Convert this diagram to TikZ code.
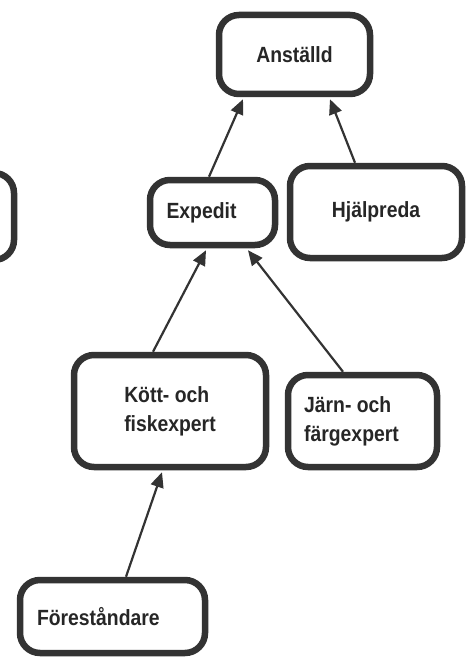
\documentclass[tikz,border=0pt]{standalone}
\usepackage{fontspec}
\setmainfont{Liberation Sans}[FakeStretch=0.88]
\usetikzlibrary{arrows.meta, positioning, calc}

\definecolor{boxLine}{HTML}{333333}
\definecolor{boxText}{HTML}{262626}

\begin{document}
\begin{tikzpicture}[
		x=1pt, y=-1pt,
		font=\fontsize{22}{29}\selectfont\bfseries,
		% Styles
		roleBox/.style={draw=boxLine, line width=6.5pt, rounded corners=20pt, text=boxText, align=center, inner sep=0pt, minimum width=#1},
		inheritArrow/.style={-{Triangle[length=15pt, width=13pt]}, line width=2.2pt, draw=boxLine}
		]
		
		\useasboundingbox (0,0) rectangle (471,658);
		
		% =========================================================
		% 1. ROLES
		% =========================================================
		\node[roleBox=151pt, minimum height=79pt] (Anstalld) at (294.5, 54.5) {Anställd};
		\node[roleBox=125pt, minimum height=65pt] (Expedit) at (212.5, 212.5) {Expedit\hspace*{22pt}};
		\node[roleBox=172pt, minimum height=92pt] (Hjalpreda) at (376, 212) {Hjälpreda};
		\node[roleBox=192pt, minimum height=112pt, align=left] (Kott) at (170, 411) {Kött- och\\fiskexpert};
		\node[roleBox=149pt, minimum height=92pt, align=left] (Jarn) at (362.5, 421) {Järn- och\\färgexpert\hspace*{22pt}};
		\node[roleBox=185pt, minimum height=73pt, text width=151pt, align=left] (Forestandare) at (112.5, 616.5) {Föreståndare};
		
		% Box cut off at the left edge
		\begin{scope}
			\clip (0,0) rectangle (471,658);
			\node[roleBox=150pt, minimum height=87pt] (Vanster) at (-61, 216.5) {};
		\end{scope}
		
		% =========================================================
		% 2. INHERITANCE ARROWS
		% =========================================================
		\draw[inheritArrow] ([xshift=-3.5pt]Expedit.north) -- ([xshift=-51.5pt, yshift=-2pt]Anstalld.south);
		\draw[inheritArrow] ([xshift=-21pt]Hjalpreda.north) -- ([xshift=35.5pt, yshift=-2pt]Anstalld.south);
		\draw[inheritArrow] ([xshift=-17pt]Kott.north) -- ([xshift=-6.5pt, yshift=-2pt]Expedit.south);
		\draw[inheritArrow] ([xshift=-19.5pt]Jarn.north) -- ([xshift=35.5pt, yshift=-2pt]Expedit.south);
		\draw[inheritArrow] ([xshift=13.5pt]Forestandare.north) -- ([xshift=-8pt, yshift=-2pt]Kott.south);
		
	\end{tikzpicture}
\end{document}
